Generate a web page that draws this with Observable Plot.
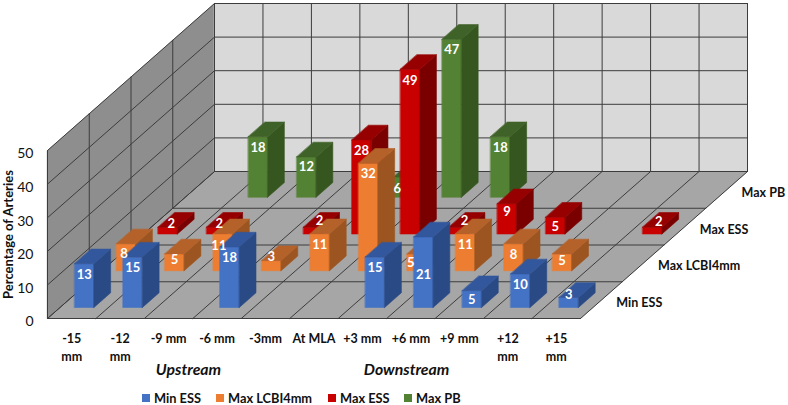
<!DOCTYPE html>
<html>
<head>
<meta charset="utf-8">
<script src="https://cdn.jsdelivr.net/npm/d3@7"></script>
<script src="https://cdn.jsdelivr.net/npm/@observablehq/plot@0.6"></script>
<style>
html,body{margin:0;padding:0;background:#fff;width:788px;height:405px;overflow:hidden}
#legend{position:relative;height:25px;font:bold 12.8px Lato,sans-serif;color:#111}
#legend span{position:absolute;top:9.5px;line-height:16px;white-space:nowrap}
#legend i{position:absolute;top:14px;width:8px;height:8px}
</style>
</head>
<body>
<div id="chart"></div>
<div id="legend"></div>
<script>
// ---- data ----
const categories = ["-15\nmm","-12\nmm","-9 mm","-6 mm","-3mm","At MLA","+3 mm","+6 mm","+9 mm","+12\nmm","+15\nmm"];
const seriesNames = ["Min ESS","Max LCBI4mm","Max ESS","Max PB"];
const minESS  = [13,15,null,18,null,null,15,21,5,10,3];
const maxLCBI = [8,5,11,3,11,32,5,11,8,5,null];
const maxESS  = [2,2,null,2,28,49,2,9,5,null,2];
const maxPB   = [null,18,12,null,6,47,18,null,null,null,null];
const yTicks  = [0,10,20,30,40,50];
const regions = [{label:"Upstream",at:2.91},{label:"Downstream",at:7.41}];
const legendAt = [142,216,328,404];

// ---- styling ----
const palette = [
  {front:"#4472c4",side:"#2a4a85",top:"#33579c"},
  {front:"#ed7d31",side:"#9c5520",top:"#b5622a"},
  {front:"#c80000",side:"#7a0000",top:"#960000"},
  {front:"#548235",side:"#36561f",top:"#3f6228"}
];
const font = "Lato, sans-serif";

// ---- oblique projection: category, depth, value -> plot coordinates ----
const pxCat = 48.45, pxUnit = 3.36, pxDepthX = 41.75, pxDepthY = 36.75;
const R = pxDepthX / pxCat, Q = pxDepthY / pxUnit;
const nCat = categories.length, nSer = seriesNames.length, vMax = 50;
const P = (c,d,v) => ({X: c + d*R, Y: v + d*Q});

function poly(list, id, corners, attrs){
  corners.forEach(([c,d,v]) => list.push({id, ...P(c,d,v), ...attrs}));
}

// walls and floor
const walls = [];
poly(walls,"left",[[0,0,0],[0,nSer,0],[0,nSer,vMax],[0,0,vMax]],{fill:"#8e8e8e"});
poly(walls,"back",[[0,nSer,0],[nCat,nSer,0],[nCat,nSer,vMax],[0,nSer,vMax]],{fill:"#d9d9d9"});
poly(walls,"floor",[[0,0,0],[nCat,0,0],[nCat,nSer,0],[0,nSer,0]],{fill:"#a6a6a6"});

// grid
const grid = [];
const seg = (id,a,b) => { grid.push({id,...P(...a)}); grid.push({id,...P(...b)}); };
for (let c=0;c<=nCat;c++){ seg("fc"+c,[c,0,0],[c,nSer,0]); seg("bc"+c,[c,nSer,0],[c,nSer,vMax]); }
for (let d=0;d<=nSer;d++){ seg("fd"+d,[0,d,0],[nCat,d,0]); seg("ld"+d,[0,d,0],[0,d,vMax]); }
for (const v of yTicks){ seg("lv"+v,[0,0,v],[0,nSer,v]); seg("bv"+v,[0,nSer,v],[nCat,nSer,v]); }

// bars, painted from the back row to the front row
const columns = [minESS,maxLCBI,maxESS,maxPB];
const faces = [];
const labels = [];
// label placement tweaks, px: [right, below the top of the front face]
const tweak = {
  "0|7":[0,38],"0|8":[0,9],"0|10":[0,-3],
  "1|0":[-2,10],"1|1":[0,6],"1|2":[-4,12],"1|3":[0,-4],"1|6":[-6,9],"1|9":[0,7],
  "2|0":[3.5,-3],"2|1":[3,-3],"2|3":[6.5,-6],"2|6":[6,-6],"2|7":[0,8],"2|8":[0,10],"2|10":[6.5,-5],
  "3|2":[0,10],"3|4":[-6,11.5]
};
for (let s=nSer-1;s>=0;s--){
  columns[s].forEach((v,c) => {
    if (v==null) return;
    const c0=c+.3,c1=c+.7,d0=s+.3,d1=s+.7,k=s+"-"+c;
    poly(faces,k+"f",[[c0,d0,0],[c1,d0,0],[c1,d0,v],[c0,d0,v]],{fill:palette[s].front});
    poly(faces,k+"s",[[c1,d0,0],[c1,d1,0],[c1,d1,v],[c1,d0,v]],{fill:palette[s].side});
    poly(faces,k+"t",[[c0,d0,v],[c1,d0,v],[c1,d1,v],[c0,d1,v]],{fill:palette[s].top});
    const [tx,ty] = tweak[s+"|"+c] || [0,11];
    const a = P(c+.5+tx/pxCat,d0,v-ty/pxUnit);
    labels.push({...a,text:String(v)});
  });
}

const polyMark = (data) => Plot.line(data,{x:"X",y:"Y",z:"id",fill:"fill",stroke:"fill",strokeWidth:.6,curve:"linear-closed"});

const chart = Plot.plot({
  width:788, height:380,
  marginLeft:47, marginRight:41, marginTop:3, marginBottom:62,
  x:{type:"linear",domain:[0,nCat+nSer*R]},
  y:{type:"linear",domain:[0,vMax+nSer*Q]},
  style:{fontFamily:font,background:"#fff",overflow:"visible"},
  marks:[
    polyMark(walls),
    Plot.line(grid,{x:"X",y:"Y",z:"id",stroke:"#3c3c3c",strokeWidth:1}),
    polyMark(faces),
    Plot.text(labels,{x:"X",y:"Y",text:"text",fill:"#fff",fontSize:13,fontWeight:"bold"}),
    Plot.axisY({ticks:yTicks,tickSize:0,tickPadding:14,label:null,fontSize:14,fill:"#111",dy:3.5,tickFormat:d=>String(d)}),
    Plot.text(["Percentage of Arteries"],{frameAnchor:"left",textAnchor:"middle",dx:-39,y:()=>25,rotate:-90,fontSize:13,fontWeight:"bold",fill:"#111"}),
    Plot.axisX({ticks:categories.map((_,i)=>i+.5),tickFormat:(d)=>categories[d-.5],tickSize:0,tickPadding:12,label:null,fontSize:12.5,fontWeight:"bold",fill:"#111",lineHeight:1.45}),
    Plot.text(regions,{x:"at",y:()=>0,dy:51,text:"label",fontSize:15.8,fontWeight:"bold",fontStyle:"italic",fill:"#111"}),
    Plot.text(seriesNames,{x:(_,i)=>nCat+(i+.5)*R,y:(_,i)=>(i+.5)*Q,text:d=>d,textAnchor:"start",dx:15,dy:3,fontSize:12.5,fontWeight:"bold",fill:"#111"})
  ]
});
document.getElementById("chart").appendChild(chart);

const lg = d3.select("#legend");
seriesNames.forEach((n,i)=>{
  lg.append("i").style("left",legendAt[i]+"px").style("background",palette[i].front);
  lg.append("span").style("left",(legendAt[i]+12)+"px").text(n);
});
</script>
</body>
</html>
